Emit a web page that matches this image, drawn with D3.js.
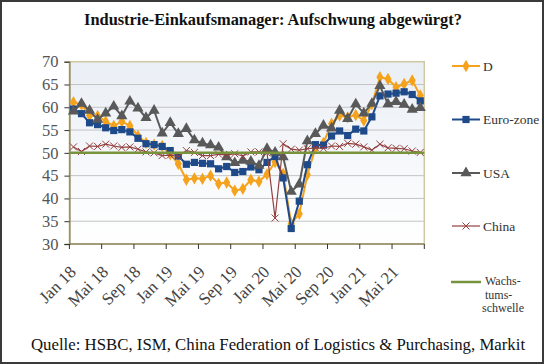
<!DOCTYPE html>
<html>
<head>
<meta charset="utf-8">
<script src="https://cdn.jsdelivr.net/npm/d3@7"></script>
<style>
  body { margin: 0; background: #fff; }
  svg text { font-family: "Liberation Serif", "DejaVu Serif", serif; }
</style>
</head>
<body>
<div id="chart"></div>
<script>
// months Jan 18 .. Aug 21
const months = [
  "Jan 18","Feb 18","Mrz 18","Apr 18","Mai 18","Jun 18","Jul 18","Aug 18","Sep 18","Okt 18","Nov 18","Dez 18",
  "Jan 19","Feb 19","Mrz 19","Apr 19","Mai 19","Jun 19","Jul 19","Aug 19","Sep 19","Okt 19","Nov 19","Dez 19",
  "Jan 20","Feb 20","Mrz 20","Apr 20","Mai 20","Jun 20","Jul 20","Aug 20","Sep 20","Okt 20","Nov 20","Dez 20",
  "Jan 21","Feb 21","Mrz 21","Apr 21","Mai 21","Jun 21","Jul 21","Aug 21"
];
const tickLabels = ["Jan 18","Mai 18","Sep 18","Jan 19","Mai 19","Sep 19","Jan 20","Mai 20","Sep 20","Jan 21","Mai 21"];
const yTicks = [30, 35, 40, 45, 50, 55, 60, 65, 70];

const germany = [
  61.1, 60.6, 58.2, 58.1, 56.9, 55.9, 56.9, 55.9, 53.7, 52.2, 51.8, 51.5,
  49.7, 47.6, 44.1, 44.4, 44.3, 45.0, 43.2, 43.5, 41.7, 42.1, 44.1, 43.7,
  45.3, 48.0, 45.4, 34.5, 36.6, 45.2, 51.0, 52.2, 56.4, 58.2, 57.8, 58.3,
  57.1, 60.7, 66.6, 66.2, 64.4, 65.1, 65.9, 62.6
];
const eurozone = [
  59.6, 58.6, 56.6, 56.2, 55.5, 54.9, 55.1, 54.6, 53.2, 52.0, 51.8, 51.4,
  50.5, 49.3, 47.5, 47.9, 47.7, 47.6, 46.5, 47.0, 45.7, 45.9, 46.9, 46.3,
  47.9, 49.2, 44.5, 33.4, 39.4, 47.4, 51.8, 51.7, 53.7, 54.8, 53.8, 55.2,
  54.8, 57.9, 62.5, 62.9, 63.1, 63.4, 62.8, 61.4
];
const usa = [
  59.1, 60.8, 59.3, 57.3, 58.7, 60.2, 58.1, 61.3, 59.8, 57.7, 59.3, 54.3,
  56.6, 54.2, 55.3, 52.8, 52.1, 51.7, 51.2, 49.1, 47.8, 48.3, 48.1, 47.2,
  50.9, 50.1, 49.1, 41.5, 43.1, 52.6, 54.2, 56.0, 55.4, 59.3, 57.5, 60.7,
  58.7, 60.8, 64.7, 60.7, 61.2, 60.6, 59.5, 59.9
];
const china = [
  51.3, 50.3, 51.5, 51.4, 51.9, 51.5, 51.2, 51.3, 50.8, 50.2, 50.0, 49.4,
  49.5, 49.2, 50.5, 50.1, 49.4, 49.4, 49.7, 49.5, 49.8, 49.3, 50.2, 50.2,
  50.0, 35.7, 52.0, 50.8, 50.6, 50.9, 51.1, 51.0, 51.5, 51.4, 52.1, 51.9,
  51.3, 50.6, 51.9, 51.1, 51.0, 50.9, 50.4, 50.1
];
const threshold = 50;

const svgWidth = 544;
const svgHeight = 364;
const plot = { left: 69.4, right: 424.3, top: 61.7, bottom: 244 };

const svg = d3.select("#chart")
  .append("svg")
  .attr("width", svgWidth)
  .attr("height", svgHeight);

// outer frame
svg.append("rect")
  .attr("x", 1).attr("y", 1)
  .attr("width", svgWidth - 2).attr("height", svgHeight - 2)
  .attr("fill", "#fff")
  .attr("stroke", "#3a3a3a")
  .attr("stroke-width", 2);

// title
svg.append("text")
  .attr("x", 273).attr("y", 25)
  .attr("text-anchor", "middle")
  .attr("font-size", 16.4)
  .attr("font-weight", "bold")
  .attr("fill", "#111")
  .text("Industrie-Einkaufsmanager: Aufschwung abgewürgt?");

const x = d3.scaleBand()
  .domain(months)
  .range([plot.left, plot.right])
  .padding(0);
const cx = d => x(d) + x.bandwidth() / 2;

const y = d3.scaleLinear()
  .domain([30, 70])
  .range([plot.bottom, plot.top]);

// plot background
const grad = svg.append("defs").append("linearGradient")
  .attr("id", "bg").attr("x1", 0).attr("y1", 0).attr("x2", 0).attr("y2", 1);
grad.append("stop").attr("offset", "0%").attr("stop-color", "#eaeff5");
grad.append("stop").attr("offset", "100%").attr("stop-color", "#ffffff");

svg.append("rect")
  .attr("x", plot.left).attr("y", plot.top)
  .attr("width", plot.right - plot.left)
  .attr("height", plot.bottom - plot.top)
  .attr("fill", "url(#bg)");

// gridlines
svg.append("g")
  .selectAll("line")
  .data(yTicks.filter(t => t > 30 && t < 70))
  .enter()
  .append("line")
  .attr("x1", plot.left).attr("x2", plot.right)
  .attr("y1", d => y(d)).attr("y2", d => y(d))
  .attr("stroke", "#c4c4c4")
  .attr("stroke-width", 1);

// plot border
svg.append("rect")
  .attr("x", plot.left).attr("y", plot.top)
  .attr("width", plot.right - plot.left)
  .attr("height", plot.bottom - plot.top)
  .attr("fill", "none")
  .attr("stroke", "#cfc9a2")
  .attr("stroke-width", 1.5);

// y axis
const leftAxis = d3.axisLeft(y).tickValues(yTicks).tickSize(5).tickPadding(6);
const gy = svg.append("g")
  .attr("transform", `translate(${plot.left}, 0)`)
  .call(leftAxis);
gy.select(".domain").attr("stroke", "#8f8a63").attr("stroke-width", 1.5);
gy.selectAll(".tick line").attr("stroke", "#333");
gy.selectAll(".tick text")
  .attr("font-size", 16.5)
  .attr("fill", "#555");

// x axis: ticks at category boundaries every 4 months
const boundaries = months.filter((m, i) => i % 4 === 0).map(m => x(m)).concat([plot.right]);
svg.append("line")
  .attr("x1", plot.left).attr("x2", plot.right)
  .attr("y1", plot.bottom).attr("y2", plot.bottom)
  .attr("stroke", "#8f8a63").attr("stroke-width", 1.5);
svg.append("g")
  .selectAll("line")
  .data(boundaries)
  .enter()
  .append("line")
  .attr("x1", d => d).attr("x2", d => d)
  .attr("y1", plot.bottom).attr("y2", plot.bottom + 5)
  .attr("stroke", "#333");

svg.append("g")
  .selectAll("text")
  .data(tickLabels)
  .enter()
  .append("text")
  .attr("transform", d => `translate(${cx(d) + 3.5}, ${plot.bottom + 29}) rotate(-45)`)
  .attr("text-anchor", "end")
  .attr("font-size", 17)
  .attr("fill", "#444")
  .text(d => d);

// series
const line = d3.line()
  .x((d, i) => cx(months[i]))
  .y(d => y(d));

const series = [
  { name: "D", values: germany, color: "#f5a21c", width: 2, marker: "diamond" },
  { name: "Euro-zone", values: eurozone, color: "#1f4a8a", width: 2, marker: "square" },
  { name: "USA", values: usa, color: "#595959", width: 2, marker: "triangle" },
  { name: "China", values: china, color: "#94403f", width: 1.2, marker: "x" }
];

const symbolFor = {
  diamond: d3.symbol().type(d3.symbolDiamond).size(44),
  square: d3.symbol().type(d3.symbolSquare).size(52),
  triangle: d3.symbol().type(d3.symbolTriangle).size(54),
  x: d3.symbol().type(d3.symbolX).size(34)
};

function drawMarker(g, s, px, py) {
  const p = g.append("path")
    .attr("d", symbolFor[s.marker]())
    .attr("transform", `translate(${px}, ${py})`);
  if (s.marker === "x") {
    p.attr("fill", "none").attr("stroke", s.color).attr("stroke-width", 1);
  } else {
    p.attr("fill", s.color);
  }
}

series.forEach(s => {
  const g = svg.append("g");
  g.append("path")
    .datum(s.values)
    .attr("d", line)
    .attr("fill", "none")
    .attr("stroke", s.color)
    .attr("stroke-width", s.width)
    .attr("stroke-linejoin", "round");
  s.values.forEach((v, i) => drawMarker(g, s, cx(months[i]), y(v)));
});

// growth threshold
svg.append("line")
  .attr("x1", plot.left).attr("x2", plot.right)
  .attr("y1", y(threshold)).attr("y2", y(threshold))
  .attr("stroke", "#77933c")
  .attr("stroke-width", 2.5);

// legend
const legendY = [66, 119.5, 173, 226];
series.forEach((s, i) => {
  const g = svg.append("g");
  g.append("line")
    .attr("x1", 452).attr("x2", 480)
    .attr("y1", legendY[i]).attr("y2", legendY[i])
    .attr("stroke", s.color).attr("stroke-width", s.width);
  drawMarker(g, s, 466, legendY[i]);
  g.append("text")
    .attr("x", 483).attr("y", legendY[i] + 4.5)
    .attr("font-size", 13.5)
    .attr("fill", "#333")
    .text(s.name);
});

svg.append("line")
  .attr("x1", 451).attr("x2", 481)
  .attr("y1", 282).attr("y2", 282)
  .attr("stroke", "#77933c").attr("stroke-width", 2.5);
const wt = svg.append("text")
  .attr("font-size", 12)
  .attr("fill", "#333");
["Wachs-", "tums-", "schwelle"].forEach((t, i) => {
  wt.append("tspan")
    .attr("x", i === 2 ? 482 : 485)
    .attr("y", 285 + i * 13.5)
    .text(t);
});

// source
svg.append("text")
  .attr("x", 31).attr("y", 350)
  .attr("font-size", 16.8)
  .attr("fill", "#111")
  .text("Quelle: HSBC, ISM, China Federation of Logistics & Purchasing, Markit");
</script>
</body>
</html>
